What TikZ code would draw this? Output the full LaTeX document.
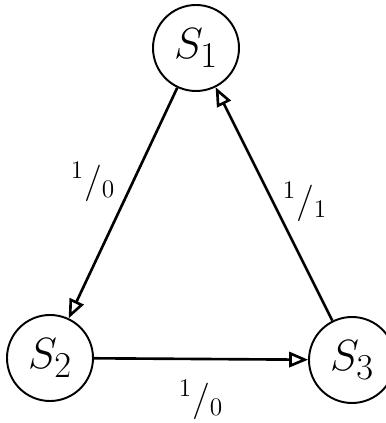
\documentclass[tikz,border=0pt]{standalone}
\usepackage{amsmath,amssymb}
\usepackage{tikz}
\usetikzlibrary{shapes,arrows,positioning,calc}

\begin{document}
\begin{tikzpicture}[
    state/.style={circle, draw, line width=1.1pt, minimum size=1.72cm, inner sep=0pt, font=\Huge},
    arrow/.style={->, >=open triangle 45, line width=1.5pt},
    lbl/.style={font=\huge}
]
\useasboundingbox (0,0) rectangle (7.7,8.46);
\node[state] (s1) at (3.92,7.50) {$S_1$};
\node[state] (s2) at (1.00,1.30) {$S_2$};
\node[state] (s3) at (7.04,1.26) {$S_3$};
\draw[arrow] (s1) -- (s2);
\draw[arrow] (s3) -- (s1);
\draw[arrow] (s2) -- (s3);
\node[lbl] (l12) at (1.86,4.82) {${}^{1}/{}_{0}$};
\node[lbl] (l31) at (6.10,4.42) {${}^{1}/{}_{1}$};
\node[lbl] (l23) at (4.02,0.46) {${}^{1}/{}_{0}$};
\end{tikzpicture}
\end{document}
